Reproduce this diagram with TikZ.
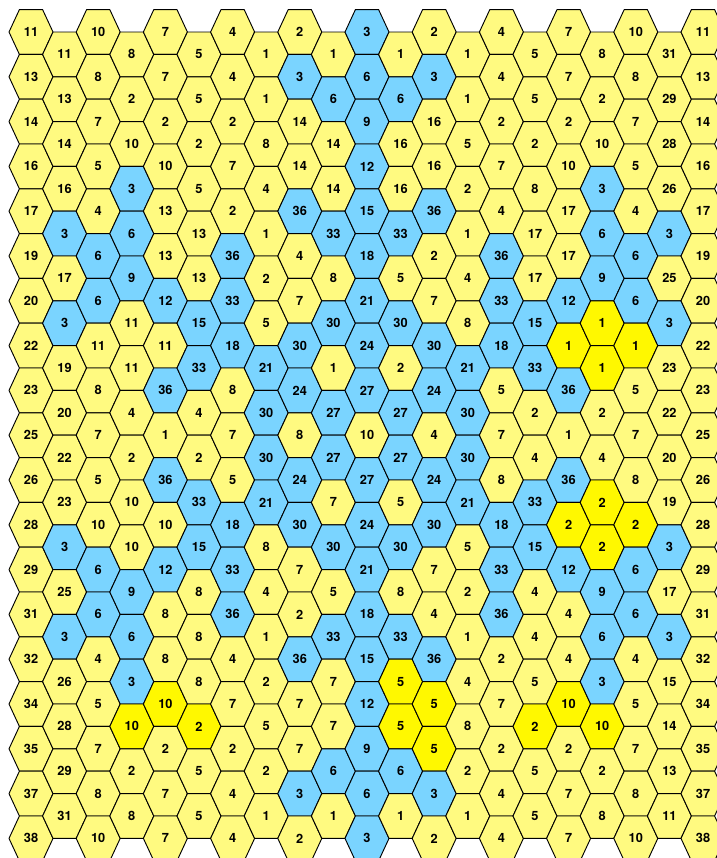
\documentclass[tikz,border=0pt]{standalone}
\usepackage{fontspec}
\setsansfont{TeX Gyre Heros}
\definecolor{hexp}{RGB}{255,250,128}
\definecolor{hexb}{RGB}{122,212,255}
\definecolor{hexy}{RGB}{255,248,0}
\tikzset{
  hexcell/.style={draw=black, line width=0.7pt, line join=round},
  cellnum/.style={font=\sffamily\bfseries\fontsize{9.6}{11}\selectfont, inner sep=0pt}
}
\newcommand{\hexcol}[2]{%
  \foreach \val/\kind [count=\row from 0] in {#2} {
    \pgfmathsetmacro{\cx}{31+33.6*#1}
    \pgfmathsetmacro{\cy}{32+22.4*mod(#1,2)+44.8*\row}
    \draw[hexcell, fill=hex\kind] (\cx-22,\cy) -- ++(10.4,-22.4) -- ++(23.2,0) -- ++(10.4,22.4) -- ++(-10.4,22.4) -- ++(-23.2,0) -- cycle;
    \node[cellnum] (h#1-\row) at (\cx,\cy) {\val};
  }}
\begin{document}
\begin{tikzpicture}[x=0.75pt,y=-0.75pt]
\clip (0,0) rectangle (717,858);
\hexcol{0}{11/p,13/p,14/p,16/p,17/p,19/p,20/p,22/p,23/p,25/p,26/p,28/p,29/p,31/p,32/p,34/p,35/p,37/p,38/p}
\hexcol{1}{11/p,13/p,14/p,16/p,3/b,17/p,3/b,19/p,20/p,22/p,23/p,3/b,25/p,3/b,26/p,28/p,29/p,31/p}
\hexcol{2}{10/p,8/p,7/p,5/p,4/p,6/b,6/b,11/p,8/p,7/p,5/p,10/p,6/b,6/b,4/p,5/p,7/p,8/p,10/p}
\hexcol{3}{8/p,2/p,10/p,3/b,6/b,9/b,11/p,11/p,4/p,2/p,10/p,10/p,9/b,6/b,3/b,10/y,2/p,8/p}
\hexcol{4}{7/p,7/p,2/p,10/p,13/p,13/p,12/b,11/p,36/b,1/p,36/b,10/p,12/b,8/p,8/p,10/y,2/p,7/p,7/p}
\hexcol{5}{5/p,5/p,2/p,5/p,13/p,13/p,15/b,33/b,4/p,2/p,33/b,15/b,8/p,8/p,8/p,2/y,5/p,5/p}
\hexcol{6}{4/p,4/p,2/p,7/p,2/p,36/b,33/b,18/b,8/p,7/p,5/p,18/b,33/b,36/b,4/p,7/p,2/p,4/p,4/p}
\hexcol{7}{1/p,1/p,8/p,4/p,1/p,2/p,5/p,21/b,30/b,30/b,21/b,8/p,4/p,1/p,2/p,5/p,2/p,1/p}
\hexcol{8}{2/p,3/b,14/p,14/p,36/b,4/p,7/p,30/b,24/b,8/p,24/b,30/b,7/p,2/p,36/b,7/p,7/p,3/b,2/p}
\hexcol{9}{1/p,6/b,14/p,14/p,33/b,8/p,30/b,1/p,27/b,27/b,7/p,30/b,5/p,33/b,7/p,7/p,6/b,1/p}
\hexcol{10}{3/b,6/b,9/b,12/b,15/b,18/b,21/b,24/b,27/b,10/p,27/b,24/b,21/b,18/b,15/b,12/b,9/b,6/b,3/b}
\hexcol{11}{1/p,6/b,16/p,16/p,33/b,5/p,30/b,2/p,27/b,27/b,5/p,30/b,8/p,33/b,5/y,5/y,6/b,1/p}
\hexcol{12}{2/p,3/b,16/p,16/p,36/b,2/p,7/p,30/b,24/b,4/p,24/b,30/b,7/p,4/p,36/b,5/y,5/y,3/b,2/p}
\hexcol{13}{1/p,1/p,5/p,2/p,1/p,4/p,8/p,21/b,30/b,30/b,21/b,5/p,2/p,1/p,4/p,8/p,2/p,1/p}
\hexcol{14}{4/p,4/p,2/p,7/p,4/p,36/b,33/b,18/b,5/p,7/p,8/p,18/b,33/b,36/b,2/p,7/p,2/p,4/p,4/p}
\hexcol{15}{5/p,5/p,2/p,8/p,17/p,17/p,15/b,33/b,2/p,4/p,33/b,15/b,4/p,4/p,5/p,2/y,5/p,5/p}
\hexcol{16}{7/p,7/p,2/p,10/p,17/p,17/p,12/b,1/y,36/b,1/p,36/b,2/y,12/b,4/p,4/p,10/y,2/p,7/p,7/p}
\hexcol{17}{8/p,2/p,10/p,3/b,6/b,9/b,1/y,1/y,2/p,4/p,2/y,2/y,9/b,6/b,3/b,10/y,2/p,8/p}
\hexcol{18}{10/p,8/p,7/p,5/p,4/p,6/b,6/b,1/y,5/p,7/p,8/p,2/y,6/b,6/b,4/p,5/p,7/p,8/p,10/p}
\hexcol{19}{31/p,29/p,28/p,26/p,3/b,25/p,3/b,23/p,22/p,20/p,19/p,3/b,17/p,3/b,15/p,14/p,13/p,11/p}
\hexcol{20}{11/p,13/p,14/p,16/p,17/p,19/p,20/p,22/p,23/p,25/p,26/p,28/p,29/p,31/p,32/p,34/p,35/p,37/p,38/p}
\end{tikzpicture}
\end{document}
